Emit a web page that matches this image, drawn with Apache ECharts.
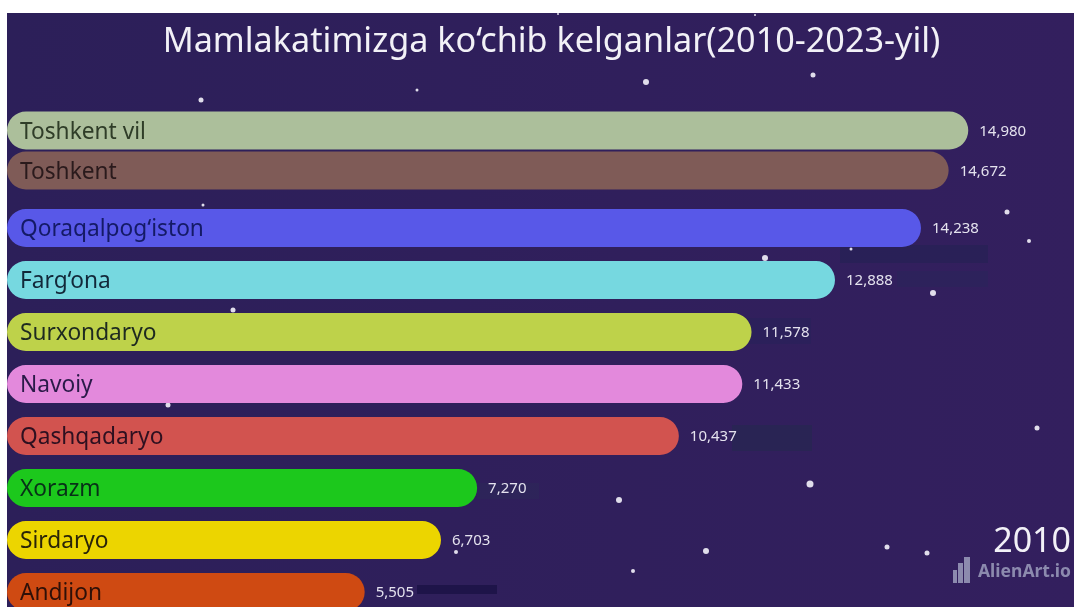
<!DOCTYPE html>
<html>
<head>
<meta charset="UTF-8">
<title>Mamlakatimizga ko‘chib kelganlar</title>
<style>
html, body { margin: 0; padding: 0; background: #fff; overflow: hidden; }
#main { position: absolute; left: 7px; top: 13px; width: 1067px; height: 594px; }
</style>
<script src="https://cdn.jsdelivr.net/npm/echarts@6/dist/echarts.min.js"></script>
</head>
<body>
<div id="main"></div>
<script>
var titleText = 'Mamlakatimizga ko‘chib kelganlar(2010-2023-yil)';
var yearText = '2010';
var categories = ['Toshkent vil', 'Toshkent', 'Qoraqalpog‘iston', 'Farg‘ona', 'Surxondaryo', 'Navoiy', 'Qashqadaryo', 'Xorazm', 'Sirdaryo', 'Andijon'];
var values = [14980, 14672, 14238, 12888, 11578, 11433, 10437, 7270, 6703, 5505];
// bars are caught mid swap in the race, so the top two sit between whole ranks
var ranks = [0.125, 0.894, 2, 3, 4, 5, 6, 7, 8, 9];
var colors = ['#acbf9b', '#7f5b57', '#5858e8', '#76d8e0', '#bed24a', '#e389dc', '#d2534f', '#1cc81c', '#ecd500', '#cf4a12'];
var labelColors = ['#2f3d28', '#2a1a1c', '#141a66', '#12283a', '#1e2a20', '#2a1a48', '#2e1020', '#083018', '#2a2408', '#2e1008'];
var starX = [201, 417, 646, 813, 765, 933, 1007, 1029, 851, 233, 168, 1037, 810, 619, 706, 887, 927, 633, 203, 456, 558, 755];
var starY = [100, 90, 82, 75, 258, 293, 212, 241, 249, 310, 405, 428, 484, 500, 551, 547, 553, 571, 205, 552, 14, 15];
var starSize = [5, 3, 6, 5, 6, 6, 5, 4, 3, 5, 5, 5, 7, 6, 6, 5, 5, 4, 3, 4, 2, 2];

var xMin = -110;
var chart = echarts.init(document.getElementById('main'));

function renderBar(params, api) {
    var i = params.dataIndex;
    var start = api.coord([xMin, api.value(1)]);
    var end = api.coord([api.value(0), api.value(1)]);
    var h = api.size([0, 1])[1] * 0.73;
    return {
        type: 'group',
        children: [{
            type: 'rect',
            shape: { x: start[0], y: start[1] - h / 2, width: end[0] - start[0], height: h, r: 19 },
            style: { fill: colors[i] }
        }, {
            type: 'text',
            style: {
                x: start[0] + 13, y: start[1] + 2, text: categories[i], fill: labelColors[i],
                font: '22.7px "Noto Sans"', textAlign: 'left', textVerticalAlign: 'middle'
            }
        }, {
            type: 'text',
            style: {
                x: end[0] + 11, y: start[1] + 1, text: api.value(0).toLocaleString('en-US'), fill: '#e4e2ee',
                font: '15px "Noto Sans"', textAlign: 'left', textVerticalAlign: 'middle'
            }
        }]
    };
}

var barData = values.map(function (v, i) { return [v, ranks[i]]; });
var starData = starX.map(function (x, i) { return [x, starY[i], starSize[i]]; });

chart.setOption({
    animation: false,
    backgroundColor: new echarts.graphic.LinearGradient(0, 0, 1, 0, [
        { offset: 0, color: '#2c1f59' },
        { offset: 1, color: '#331f5e' }
    ]),
    title: [{
        text: titleText, left: 539.5, top: 7, textAlign: 'center',
        textStyle: { color: '#f2f1f7', fontFamily: 'Noto Sans', fontSize: 34.2, fontWeight: 'normal' }
    }, {
        text: yearText, right: -2, top: 507,
        textStyle: { color: '#f2f1f7', fontFamily: 'Noto Sans', fontSize: 34, fontWeight: 'normal' }
    }, {
        text: 'AlienArt.io', right: -2, top: 545,
        textStyle: { color: '#8c8aae', fontFamily: 'Noto Sans', fontSize: 17.5, fontWeight: 'bold' }
    }],
    grid: [
        { left: 0, top: 59, width: 1067, height: 535, show: false },
        { left: 0, top: 0, width: 1067, height: 594, show: false }
    ],
    xAxis: [
        { type: 'value', gridIndex: 0, min: xMin, max: 16640, show: false },
        { type: 'value', gridIndex: 1, min: 7, max: 1074, show: false }
    ],
    yAxis: [
        { type: 'value', gridIndex: 0, min: -1, max: 9.29, inverse: true, show: false },
        { type: 'value', gridIndex: 1, min: 13, max: 607, inverse: true, show: false }
    ],
    graphic: [
        // compression streaks left behind the value labels
        { type: 'rect', shape: { x: 833, y: 232, width: 148, height: 18 }, style: { fill: '#1f2150', opacity: 0.45 }, z: 0 },
        { type: 'rect', shape: { x: 890, y: 258, width: 91, height: 16 }, style: { fill: '#27255a', opacity: 0.5 }, z: 0 },
        { type: 'rect', shape: { x: 740, y: 305, width: 64, height: 26 }, style: { fill: '#252258', opacity: 0.45 }, z: 0 },
        { type: 'rect', shape: { x: 725, y: 412, width: 80, height: 26 }, style: { fill: '#25284f', opacity: 0.6 }, z: 0 },
        { type: 'rect', shape: { x: 470, y: 470, width: 62, height: 16 }, style: { fill: '#2b2958', opacity: 0.5 }, z: 0 },
        { type: 'rect', shape: { x: 410, y: 572, width: 80, height: 9 }, style: { fill: '#1a1245', opacity: 0.8 }, z: 0 },
        // AlienArt logo bars
        { type: 'rect', shape: { x: 946, y: 557, width: 4, height: 13 }, style: { fill: '#8c8aae' } },
        { type: 'rect', shape: { x: 951, y: 550, width: 5, height: 20 }, style: { fill: '#8c8aae' } },
        { type: 'rect', shape: { x: 957, y: 544, width: 6, height: 26 }, style: { fill: '#8c8aae' } }
    ],
    series: [{
        type: 'scatter',
        xAxisIndex: 1,
        yAxisIndex: 1,
        silent: true,
        z: 1,
        data: starData,
        symbolSize: function (d) { return d[2]; },
        itemStyle: { color: '#f4f2fb', opacity: 0.9 }
    }, {
        type: 'custom',
        xAxisIndex: 0,
        yAxisIndex: 0,
        z: 2,
        renderItem: renderBar,
        encode: { x: 0, y: 1 },
        data: barData
    }]
});
</script>
</body>
</html>
